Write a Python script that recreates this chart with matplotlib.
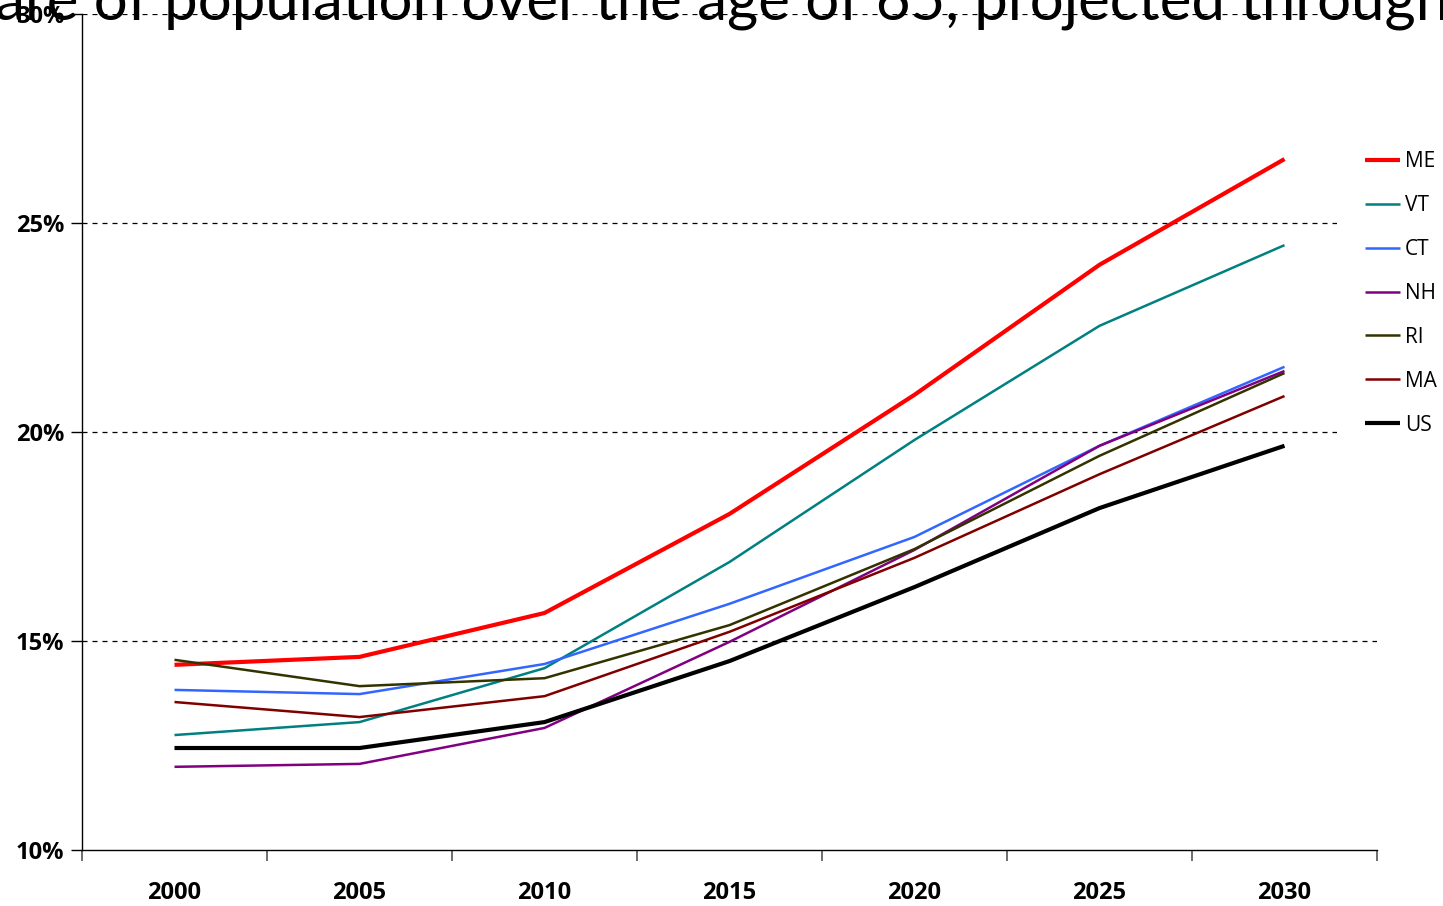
import matplotlib.pyplot as plt
import numpy as np
from matplotlib.ticker import FuncFormatter

# Datos (porcentaje de poblacion mayor de 65)
anios = ['2000', '2005', '2010', '2015', '2020', '2025', '2030']
estados = ['ME', 'VT', 'CT', 'NH', 'RI', 'MA', 'US']
me = [14.43, 14.62, 15.67, 18.04, 20.89, 24.00, 26.53]
vt = [12.75, 13.06, 14.35, 16.89, 19.81, 22.54, 24.47]
ct = [13.83, 13.73, 14.45, 15.89, 17.49, 19.67, 21.56]
nh = [11.99, 12.06, 12.92, 14.98, 17.18, 19.67, 21.46]
ri = [14.55, 13.92, 14.11, 15.38, 17.20, 19.43, 21.41]
ma = [13.54, 13.18, 13.68, 15.22, 16.99, 18.99, 20.86]
us = [12.44, 12.44, 13.06, 14.52, 16.29, 18.18, 19.67]
series = [me, vt, ct, nh, ri, ma, us]

colores = ['#FF0000', '#008080', '#3366FF', '#800080', '#333300', '#800000', '#000000']
grosores = [3.0, 1.8, 1.8, 1.8, 1.8, 1.8, 3.0]

titulo = 'Share of population over the age of 65, projected through 2030'

W, H = 1443, 906
fig = plt.figure(figsize=(W / 100, H / 100), dpi=100)
ax = fig.add_axes([82 / W, (H - 850) / H, (1377 - 82) / W, (850 - 14) / H])

x = np.arange(len(anios))
for vals, nombre, col, lw in zip(series, estados, colores, grosores):
    ax.plot(x, vals, color=col, linewidth=lw, label=nombre, solid_capstyle='butt')

ax.set_xlim(-0.5, len(anios) - 0.5)
ax.set_ylim(10, 30)
ax.set_yticks([10, 15, 20, 25, 30])
ax.yaxis.set_major_formatter(FuncFormatter(lambda v, p: f'{v:.0f}%'))
for v in [15, 20, 25, 30]:
    ax.axhline(v, color='black', linewidth=0.9, linestyle=(0, (4, 4)), zorder=0)

ax.set_xticks(x)
ax.set_xticklabels(anios)
ax.set_xticks(np.arange(-0.5, len(anios)), minor=True)
ax.tick_params(axis='x', which='major', length=0, pad=22)
ax.tick_params(axis='x', which='minor', length=8, color='#555555', width=1.2)
ax.tick_params(axis='y', length=8, width=1, pad=5)
for lab in ax.get_xticklabels() + ax.get_yticklabels():
    lab.set_fontfamily('Open Sans')
    lab.set_fontweight('bold')
    lab.set_fontsize(17)

for s in ['top', 'right']:
    ax.spines[s].set_visible(False)
ax.spines['left'].set_linewidth(1)
ax.spines['bottom'].set_linewidth(1)

leg = ax.legend(loc='upper left', bbox_to_anchor=(1337 / W, (H - 123) / H),
                bbox_transform=fig.transFigure, frameon=True, facecolor='white',
                edgecolor='none', framealpha=1, fancybox=False,
                prop={'family': 'Open Sans', 'size': 15},
                handlelength=1.65, handletextpad=0.25, labelspacing=1.1,
                borderpad=1.35, borderaxespad=0)

# titulo recortado en el borde superior, como en la imagen original
fuente = {'family': 'Lato', 'size': 40}
r = fig.canvas.get_renderer()
tmp = fig.text(0, 0, 'are of population over the age of 65, projected through', **fuente)
ancho = tmp.get_window_extent(r).width
tmp.remove()
fuente['size'] = 40 * 1455 / ancho
tmp = fig.text(0, 0, 'Sh', **fuente)
ancho_sh = tmp.get_window_extent(r).width
tmp.remove()
fig.text(-(ancho_sh + 5) / W, 1 - 20 / H, titulo, va='baseline', ha='left', **fuente)

fig.savefig('out.png', dpi=100)
